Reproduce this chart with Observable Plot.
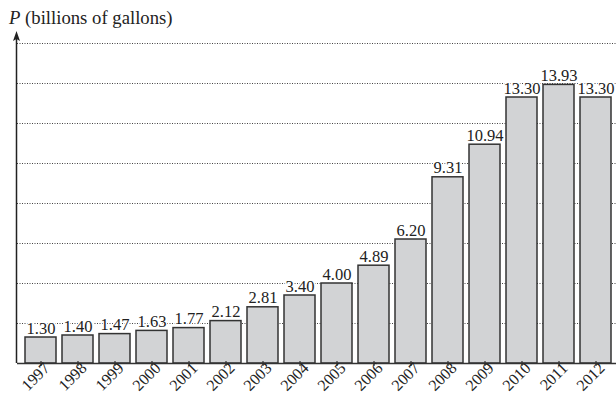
<!DOCTYPE html>
<html>
<head>
<meta charset="utf-8">
<script src="https://cdn.jsdelivr.net/npm/d3@7"></script>
<script src="https://cdn.jsdelivr.net/npm/@observablehq/plot@0.6"></script>
<style>
  html, body { margin: 0; padding: 0; background: #fff; }
  #chart { position: relative; width: 616px; height: 400px; }
  svg { font-family: "Liberation Serif", "DejaVu Serif", serif; }
</style>
</head>
<body>
<div id="chart"></div>
<script>
const years = ["1997","1998","1999","2000","2001","2002","2003","2004","2005","2006","2007","2008","2009","2010","2011","2012"];
const values = [1.30, 1.40, 1.47, 1.63, 1.77, 2.12, 2.81, 3.40, 4.00, 4.89, 6.20, 9.31, 10.94, 13.30, 13.93, 13.30];
const gridValues = [2, 4, 6, 8, 10, 12, 14, 16];
const yTitle = "(billions of gallons)";
const yVar = "P";

const data = years.map((y, i) => ({year: y, value: values[i]}));

const plot = Plot.plot({
  width: 616,
  height: 400,
  marginLeft: 17,
  marginRight: 0,
  marginTop: 43,
  marginBottom: 37,
  style: {fontFamily: '"Liberation Serif", serif', fontSize: "16px", color: "#222", background: "#fff"},
  x: {domain: years, range: [17, 619], paddingInner: 0.15, paddingOuter: 0.075, label: null},
  y: {domain: [0, 16], axis: null, label: null},
  marks: [
    Plot.ruleY(gridValues, {stroke: "#444", strokeWidth: 1, strokeDasharray: "1,1.5"}),
    Plot.barY(data, {x: "year", y: "value", fill: "#d2d3d5", stroke: "#333", strokeWidth: 1.5}),
    Plot.text(data, {x: "year", y: "value", text: d => d.value.toFixed(2), dy: -4, lineAnchor: "bottom",
      fill: "#222", stroke: "#fff", strokeWidth: 3, paintOrder: "stroke", fontSize: 16.5}),
    Plot.ruleY([0], {stroke: "#333", strokeWidth: 1.5}),
    Plot.ruleX(years, {x: d => d, y1: -0.15, y2: 0.1, stroke: "#333", strokeWidth: 1.2}),
    Plot.axisX({tickSize: 0, tickRotate: -45, tickPadding: 2, dx: 6, fontSize: 16, fill: "#222"})
  ]
});

document.getElementById("chart").appendChild(plot);

// y-axis with arrowhead, positioned from the scales
const ys = plot.scale("y");
const xs = plot.scale("x");
const svg = d3.select(plot);
const ax = xs.range[0] - 0.5;
const y0 = ys.apply(0);
const yTop = ys.apply(16.6);
svg.append("line")
  .attr("x1", ax).attr("x2", ax)
  .attr("y1", y0).attr("y2", yTop + 6)
  .attr("stroke", "#222").attr("stroke-width", 1.5);
svg.append("path")
  .attr("d", `M${ax},${yTop} L${ax - 3.5},${yTop + 10} L${ax},${yTop + 8} L${ax + 3.5},${yTop + 10} Z`)
  .attr("fill", "#222");

const title = svg.append("text")
  .attr("x", 9).attr("y", 24)
  .attr("text-anchor", "start")
  .attr("fill", "#222")
  .attr("font-size", 18.7);
title.append("tspan").attr("font-style", "italic").text(yVar);
title.append("tspan").text(" " + yTitle);
</script>
</body>
</html>
